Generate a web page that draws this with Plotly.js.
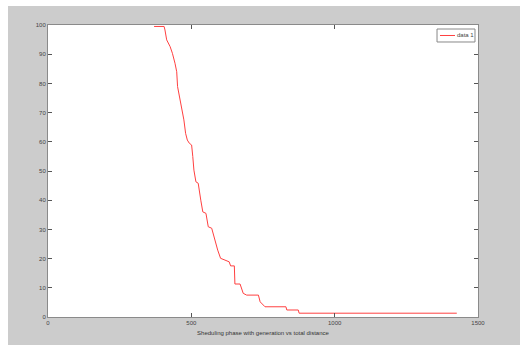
<!DOCTYPE html>
<html>
<head>
<meta charset="utf-8">
<script src="https://cdn.plot.ly/plotly-3.0.1.min.js"></script>
<style>html,body{margin:0;padding:0;background:#fff;}#chart{width:520px;height:345px;}</style>
</head>
<body>
<div id="chart"></div>
<script>
// Data
const generation = [370, 405, 408, 414, 426, 434, 443, 449, 452, 460, 469, 474, 480, 486, 493, 501, 505, 509, 516, 524, 533, 540, 551, 559, 571, 577, 585, 592, 602, 615, 632, 637, 650, 652, 670, 681, 693, 734, 740, 757, 830, 833, 873, 876, 1426];
const distance = [99.5, 99.5, 98.3, 94.9, 92.6, 90.3, 86.9, 84, 78.9, 74.9, 70.9, 67.5, 62.9, 60.6, 59.5, 58.9, 55, 50.3, 46.3, 45.8, 40, 36, 35.5, 30.9, 30.4, 28.1, 24.7, 22.9, 20.1, 19.5, 18.9, 17.5, 17.5, 11.3, 11.3, 8.1, 7.5, 7.5, 5.2, 3.5, 3.5, 2.4, 2.4, 1.3, 1.3];
const seriesName = "data 1";
const xTicks = [0, 500, 1000, 1500];
const yTicks = [0, 10, 20, 30, 40, 50, 60, 70, 80, 90, 100];
const xTitle = "Sheduling phase with generation vs total distance";

const lineColor = "#ff4040";
const fontFam = "Liberation Sans, Arial, sans-serif";
const trace = {
  x: generation, y: distance, type: "scatter", mode: "lines", name: seriesName,
  line: {color: lineColor, width: 1}, showlegend: false
};
const axisCommon = {
  showgrid: false, zeroline: false, showline: true, linecolor: "#8a8a8a", linewidth: 1,
  mirror: "ticks", ticks: "inside", ticklen: 4, tickcolor: "#555", tickwidth: 1,
  tickfont: {family: fontFam, size: 6, color: "#444"}
};
// compact MATLAB-style legend box (paper coordinates)
const lg = {x0: 0.9047, x1: 0.993, y0: 0.9418, y1: 0.9863};
const lgMid = (lg.y0 + lg.y1) / 2;
const layout = {
  width: 520, height: 345,
  paper_bgcolor: "#cccccc", plot_bgcolor: "#ffffff",
  margin: {l: 48, r: 42, t: 25, b: 28, pad: 0},
  showlegend: false,
  xaxis: Object.assign({}, axisCommon, {
    range: [0, 1500], tickvals: xTicks, ticktext: xTicks.map(String),
    title: {text: xTitle, standoff: 5, font: {family: fontFam, size: 6, color: "#333"}}
  }),
  yaxis: Object.assign({}, axisCommon, {
    range: [0, 100], tickvals: yTicks, ticktext: yTicks.map(String)
  }),
  shapes: [
    {type: "rect", xref: "paper", yref: "paper", x0: -0.2, x1: (8 - 48) / 430, y0: -0.2, y1: 1.2, fillcolor: "#ffffff", line: {width: 0}, layer: "above"},
    {type: "rect", xref: "paper", yref: "paper", x0: -0.2, x1: 1.2, y0: 1 + (25 - 6) / 292, y1: 1.2, fillcolor: "#ffffff", line: {width: 0}, layer: "above"},
    {type: "rect", xref: "paper", yref: "paper", x0: lg.x0, x1: lg.x1, y0: lg.y0, y1: lg.y1, fillcolor: "#ffffff", line: {color: "#888", width: 1}, layer: "above"},
    {type: "line", xref: "paper", yref: "paper", x0: 0.9116, x1: 0.9465, y0: lgMid, y1: lgMid, line: {color: lineColor, width: 1}, layer: "above"}
  ],
  annotations: [
    {xref: "paper", yref: "paper", x: 0.9485, y: lgMid, xanchor: "left", yanchor: "middle", text: seriesName, showarrow: false, borderpad: 0, font: {family: fontFam, size: 6, color: "#444"}}
  ]
};
Plotly.newPlot("chart", [trace], layout, {displayModeBar: false, staticPlot: true});
</script>
</body>
</html>
